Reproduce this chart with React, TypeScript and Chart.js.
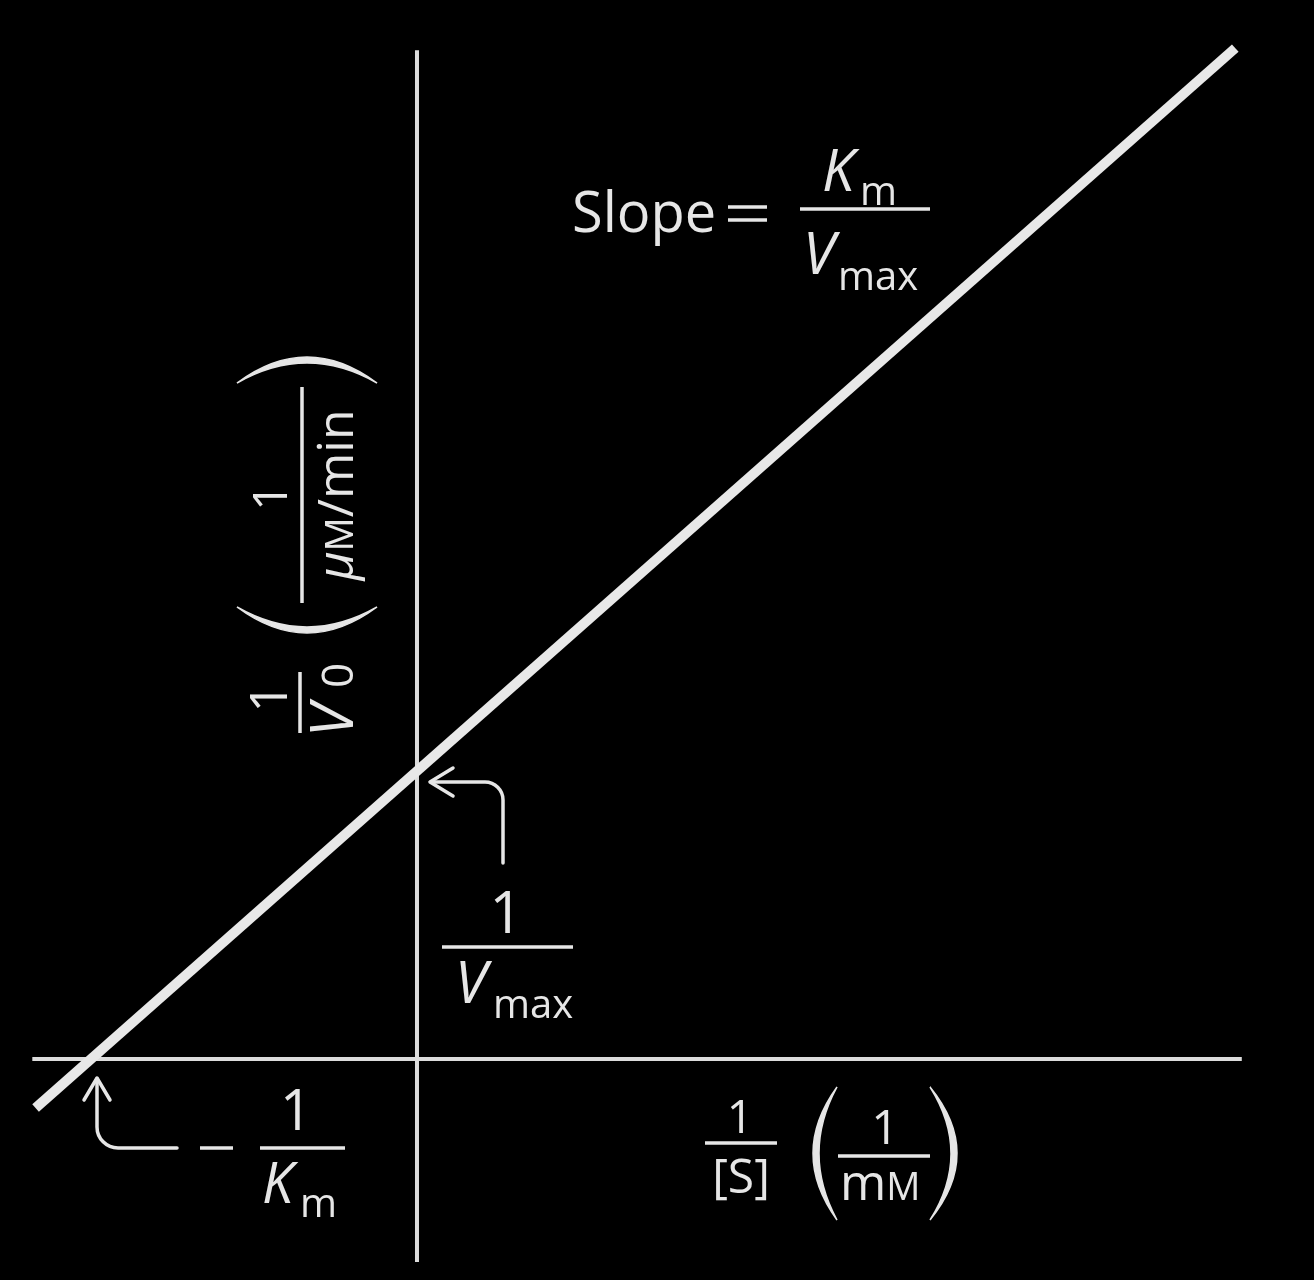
import React, { useEffect, useRef } from "react";
import { Chart, registerables } from "chart.js";

Chart.register(...registerables);

// Lineweaver–Burk plot (units: x in multiples of 1/Km, y in multiples of 1/Vmax)
const lineX = [-1.17, 2.51];
const lineY = [-0.17, 3.51];
const xAxisX = [-1.18, 2.53];
const xAxisY = [0, 0];
const yAxisX = [0, 0];
const yAxisY = [-0.705, 3.503];

const X_MIN = -1.2791;
const X_MAX = 2.7515;
const Y_MIN = -0.7674;
const Y_MAX = 3.6771;

const W = 1314;
const H = 1280;
const FONT = '"Open Sans", "Noto Sans", "DejaVu Sans", sans-serif';
const INK = "#e6e6e6";
const WEIGHT = 500;

const zip = (xs: number[], ys: number[]) => xs.map((x, i) => ({ x, y: ys[i] }));

function setFont(ctx: CanvasRenderingContext2D, size: number, italic = false) {
  ctx.font = `${italic ? "italic " : ""}${WEIGHT} ${size}px ${FONT}`;
}

function txt(ctx: CanvasRenderingContext2D, s: string, x: number, y: number, size: number, align: CanvasTextAlign = "left", italic = false) {
  setFont(ctx, size, italic);
  ctx.textAlign = align;
  ctx.textBaseline = "alphabetic";
  ctx.fillStyle = INK;
  ctx.fillText(s, x, y);
}

function hline(ctx: CanvasRenderingContext2D, x1: number, x2: number, y: number, w = 3.5) {
  ctx.beginPath();
  ctx.lineWidth = w;
  ctx.strokeStyle = INK;
  ctx.lineCap = "butt";
  ctx.moveTo(x1, y);
  ctx.lineTo(x2, y);
  ctx.stroke();
}

function paren(ctx: CanvasRenderingContext2D, xEnd: number, yTop: number, yBot: number, xMid: number, thick: number) {
  const midY = (yTop + yBot) / 2;
  const sgn = Math.sign(xEnd - xMid);
  const outerC = 2 * xMid - xEnd;
  const innerMid = xMid + thick * sgn;
  const innerC = 2 * innerMid - xEnd;
  ctx.beginPath();
  ctx.moveTo(xEnd, yTop);
  ctx.quadraticCurveTo(outerC, midY, xEnd, yBot);
  ctx.quadraticCurveTo(innerC, midY, xEnd, yTop);
  ctx.closePath();
  ctx.fillStyle = INK;
  ctx.fill();
  ctx.lineWidth = 1.5;
  ctx.strokeStyle = INK;
  ctx.stroke();
}

const annotations = {
  id: "lbAnnotations",
  beforeDraw(chart: any) {
    const ctx = chart.ctx as CanvasRenderingContext2D;
    ctx.save();
    ctx.fillStyle = "#000";
    ctx.fillRect(0, 0, chart.width, chart.height);
    ctx.restore();
  },
  afterDatasetsDraw(chart: any) {
    const ctx = chart.ctx as CanvasRenderingContext2D;
    ctx.save();

    // Slope = Km / Vmax
    txt(ctx, "Slope", 572, 232, 56);
    hline(ctx, 728, 767, 207, 3.5);
    hline(ctx, 728, 767, 220, 3.5);
    hline(ctx, 800, 930, 209);
    txt(ctx, "K", 822, 191, 58, "left", true);
    txt(ctx, "m", 860, 205, 40);
    txt(ctx, "V", 803, 274, 58, "left", true);
    txt(ctx, "max", 838, 290, 40);

    // 1 / Vmax
    txt(ctx, "1", 506, 933, 58, "center");
    hline(ctx, 442, 573, 947);
    txt(ctx, "V", 455, 1003, 58, "left", true);
    txt(ctx, "max", 493, 1018, 40);

    // - 1 / Km
    hline(ctx, 200, 233, 1148);
    hline(ctx, 260, 345, 1148);
    txt(ctx, "1", 296, 1130, 56, "center");
    txt(ctx, "K", 262, 1203, 56, "left", true);
    txt(ctx, "m", 300, 1217, 40);

    // x-axis label: 1/[S] (1/mM)
    txt(ctx, "1", 740, 1133, 46, "center");
    hline(ctx, 705, 777, 1143);
    txt(ctx, "[S]", 741, 1193, 48, "center");
    paren(ctx, 837, 1087, 1220, 813, 6);
    paren(ctx, 930, 1087, 1220, 957, 6);
    hline(ctx, 838, 930, 1156);
    txt(ctx, "1", 885, 1144, 48, "center");
    setFont(ctx, 50);
    const wm = ctx.measureText("m").width;
    txt(ctx, "m", 840, 1200, 50);
    txt(ctx, "M", 840 + wm, 1200, 38);

    // y-axis label (rotated): 1/V0 (1/(μM/min))
    ctx.save();
    ctx.translate(300, 700);
    ctx.rotate(-Math.PI / 2);
    txt(ctx, "1", 2, -13, 52, "center");
    hline(ctx, -33, 28, 0);
    txt(ctx, "V", -37, 53, 60, "left", true);
    txt(ctx, "0", 12, 53, 44);
    paren(ctx, 93, -63, 77, 67, 6);
    paren(ctx, 317, -63, 77, 343, 6);
    hline(ctx, 97, 313, 2);
    txt(ctx, "1", 203, -13, 48, "center");
    setFont(ctx, 50, true);
    const wMu = ctx.measureText("\u03bc").width;
    setFont(ctx, 50);
    const wSlash = ctx.measureText("/min").width;
    setFont(ctx, 38);
    const wM = ctx.measureText("M").width;
    const total = wMu + wM + wSlash;
    let sx = 205 - total / 2;
    txt(ctx, "\u03bc", sx, 53, 50, "left", true);
    sx += wMu;
    txt(ctx, "M", sx, 53, 38);
    sx += wM;
    txt(ctx, "/min", sx, 53, 50);
    ctx.restore();

    // arrows
    ctx.strokeStyle = INK;
    ctx.lineWidth = 3.5;
    ctx.lineCap = "round";
    ctx.lineJoin = "round";
    ctx.beginPath();
    ctx.moveTo(503, 863);
    ctx.lineTo(503, 800);
    ctx.arcTo(503, 782, 485, 782, 18);
    ctx.lineTo(431, 782);
    ctx.stroke();
    ctx.beginPath();
    ctx.moveTo(453, 768);
    ctx.lineTo(430, 782);
    ctx.lineTo(453, 796);
    ctx.stroke();

    ctx.beginPath();
    ctx.moveTo(177, 1148);
    ctx.lineTo(118, 1148);
    ctx.arcTo(97, 1148, 97, 1127, 21);
    ctx.lineTo(97, 1079);
    ctx.stroke();
    ctx.beginPath();
    ctx.moveTo(84, 1100);
    ctx.lineTo(97, 1078);
    ctx.lineTo(110, 1100);
    ctx.stroke();

    ctx.restore();
  },
};

export default function App() {
  const ref = useRef<HTMLCanvasElement | null>(null);
  useEffect(() => {
    const canvas = ref.current;
    if (!canvas) return;
    const chart = new Chart(canvas, {
      type: "scatter",
      data: {
        datasets: [
          {
            label: "1/v0",
            data: zip(lineX, lineY),
            showLine: true,
            borderColor: "#e8e8e8",
            borderWidth: 10,
            pointRadius: 0,
            borderCapStyle: "butt",
          },
          {
            label: "x axis",
            data: zip(xAxisX, xAxisY),
            showLine: true,
            borderColor: "#dcdcdc",
            borderWidth: 4,
            pointRadius: 0,
          },
          {
            label: "y axis",
            data: zip(yAxisX, yAxisY),
            showLine: true,
            borderColor: "#dcdcdc",
            borderWidth: 4,
            pointRadius: 0,
          },
        ],
      },
      options: {
        animation: false,
        responsive: false,
        devicePixelRatio: 1,
        layout: { padding: 0 },
        events: [],
        scales: {
          x: { type: "linear", min: X_MIN, max: X_MAX, display: false },
          y: { type: "linear", min: Y_MIN, max: Y_MAX, display: false },
        },
        plugins: { legend: { display: false }, tooltip: { enabled: false } },
      } as any,
      plugins: [annotations],
    });
    return () => chart.destroy();
  }, []);
  return (
    <div style={{ position: "absolute", left: 0, top: 0, width: W, height: H, background: "#000" }}>
      <canvas ref={ref} width={W} height={H} style={{ display: "block" }} />
    </div>
  );
}
